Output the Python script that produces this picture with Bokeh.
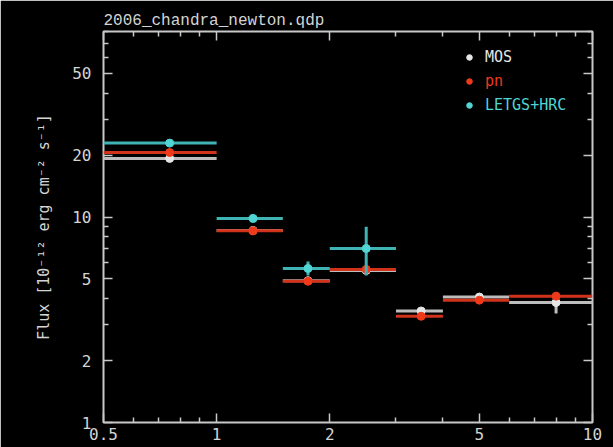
from bokeh.plotting import figure
from bokeh.models import Range1d, LogAxis, FixedTicker, Legend, LegendItem, ColumnDataSource
from bokeh.embed import file_html
from bokeh.resources import INLINE

# Energy bins (keV)
e_lo = [0.5, 1.0, 1.5, 2.0, 3.0, 4.0, 6.0]
e_hi = [1.0, 1.5, 2.0, 3.0, 4.0, 6.0, 10.0]

# MOS fluxes
mos = [19.3, 8.6, 4.9, 5.5, 3.49, 4.08, 3.84]
mos_lo = [19.0, 8.4, 4.8, 5.4, 3.42, 4.0, 3.39]
mos_hi = [19.6, 8.8, 5.0, 5.6, 3.56, 4.16, 4.3]

# pn fluxes
pn = [20.6, 8.57, 4.87, 5.56, 3.29, 3.94, 4.12]
pn_lo = [20.3, 8.45, 4.8, 5.45, 3.24, 3.88, 4.02]
pn_hi = [20.9, 8.7, 4.95, 5.67, 3.34, 4.0, 4.22]

# LETGS+HRC fluxes (first four bins)
let_lo_e = [0.5, 1.0, 1.5, 2.0]
let_hi_e = [1.0, 1.5, 2.0, 3.0]
letgs = [22.9, 9.85, 5.62, 7.03]
letgs_lo = [22.5, 9.55, 5.2, 5.2]
letgs_hi = [23.4, 10.2, 6.07, 8.96]

x_major = [0.5, 1, 2, 5, 10]
x_minor = [0.6, 0.7, 0.8, 0.9, 3, 4, 6, 7, 8, 9]
y_major = [1, 2, 5, 10, 20, 50]
y_minor = [3, 4, 6, 7, 8, 9, 30, 40, 60, 70, 80]

FONT = "DejaVu Sans Mono"
FG = "#d4d4d4"

p = figure(width=613, height=447, x_axis_type="log", y_axis_type="log",
           x_range=Range1d(0.5, 10), y_range=Range1d(1, 80),
           output_backend="svg", toolbar_location=None,
           background_fill_color="black", border_fill_color="black",
           min_border_left=103, min_border_right=21, min_border_top=31, min_border_bottom=25)
p.grid.visible = False
p.outline_line_color = "#c8c8c8"
p.outline_line_width = 2

p.title.text = "2006_chandra_newton.qdp"
p.title.text_color = FG
p.title.text_font = "Liberation Mono"
p.title.text_font_size = "16px"
p.title.text_font_style = "normal"
p.title.align = "left"
p.title.vertical_align = "top"
p.title.text_line_height = 1.0
p.title.standoff = 0

xt = FixedTicker(ticks=x_major, minor_ticks=x_minor)
yt = FixedTicker(ticks=y_major, minor_ticks=y_minor)

def style(ax):
    ax.axis_line_color = None
    ax.major_tick_in = 9
    ax.major_tick_out = 0
    ax.minor_tick_in = 5
    ax.minor_tick_out = 0
    ax.major_tick_line_color = "#c8c8c8"
    ax.minor_tick_line_color = "#c8c8c8"
    ax.major_tick_line_width = 1.5
    ax.minor_tick_line_width = 1.5
    ax.major_label_text_color = FG
    ax.major_label_text_font = FONT
    ax.major_label_text_font_size = "16px"
    ax.axis_label_text_color = FG
    ax.axis_label_text_font = FONT
    ax.axis_label_text_font_style = "normal"
    ax.axis_label_text_font_size = "15px"

p.xaxis.ticker = xt
p.yaxis.ticker = yt
p.xaxis.major_label_overrides = {0.5: "0.5", 1: "1", 2: "2", 5: "5", 10: "10"}
p.yaxis.major_label_overrides = {1: "1", 2: "2", 5: "5", 10: "10", 20: "20", 50: "50"}
for ax in p.xaxis:
    style(ax)
    ax.major_label_standoff = 5
for ax in p.yaxis:
    style(ax)
    ax.major_label_standoff = 12
    ax.axis_label = "Flux [10⁻¹² erg cm⁻² s⁻¹]"
    ax.axis_label_standoff = 16

top = LogAxis(ticker=xt)
style(top)
top.major_label_overrides = {t: "" for t in x_major}
top.major_label_standoff = 0
p.add_layout(top, "above")
right = LogAxis(ticker=yt)
style(right)
right.major_label_overrides = {t: "" for t in y_major}
right.major_label_standoff = 0
p.add_layout(right, "right")

WHITE = "#e6e6e6"
RED = "#ee3a1a"
CYAN = "#50d4d4"

def series(lo_e, hi_e, val, lo, hi, color, bar_color):
    mid = [(a + b) / 2 for a, b in zip(lo_e, hi_e)]
    src = ColumnDataSource(dict(x0=lo_e, x1=hi_e, xm=mid, y=val, ylo=lo, yhi=hi))
    p.segment(x0="x0", x1="x1", y0="y", y1="y", source=src, line_color=bar_color, line_width=3)
    p.segment(x0="xm", x1="xm", y0="ylo", y1="yhi", source=src, line_color=bar_color, line_width=3)
    return p.scatter(x="xm", y="y", source=src, size=8, fill_color=color, line_color=color)

r_mos = series(e_lo, e_hi, mos, mos_lo, mos_hi, WHITE, "#bdbdbd")
r_pn = series(e_lo, e_hi, pn, pn_lo, pn_hi, RED, "#d0321a")
r_let = series(let_lo_e, let_hi_e, letgs, letgs_lo, letgs_hi, CYAN, "#40b4b4")

for i, (name, r, col) in enumerate([("MOS", r_mos, WHITE), ("pn", r_pn, RED), ("LETGS+HRC", r_let, CYAN)]):
    lg = Legend(items=[LegendItem(label=name, renderers=[r])],
                location=(356, 356 - i * 24),
                background_fill_alpha=0, border_line_color=None,
                label_text_color=col, label_text_font=FONT, label_text_font_size="15px",
                glyph_width=20, glyph_height=14, label_standoff=6,
                padding=0, margin=0, spacing=0, label_height=14)
    p.add_layout(lg, "center")

open("out.html", "w").write(file_html(p, INLINE))
